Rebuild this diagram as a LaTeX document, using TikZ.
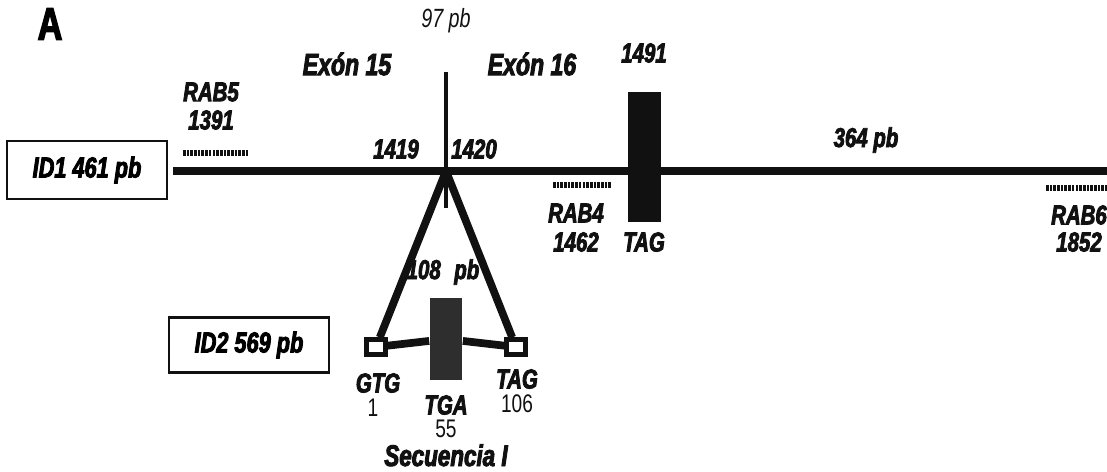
\documentclass[tikz,border=0pt]{standalone}
\usepackage{fontspec}
\setmainfont{Liberation Sans}[FakeStretch=0.75, BoldItalicFeatures={FakeBold=3}, BoldFeatures={FakeBold=3}]
\usetikzlibrary{positioning, calc}
\definecolor{ink}{HTML}{111111}

\begin{document}
\begin{tikzpicture}[x=0.02cm, y=-0.02cm,
    lbl/.style={font=\fontsize{15.5}{17}\selectfont\bfseries\itshape, text=ink, inner sep=1pt},
    num/.style={font=\fontsize{14.5}{16}\selectfont, text=ink, inner sep=1pt},
    idbox/.style={draw=ink, line width=1.2pt, minimum width=3.2cm, minimum height=1.15cm,
                  font=\fontsize{16.5}{18}\selectfont\bfseries\itshape},
    strand/.style={draw=ink, line width=4.4pt},
    stopbox/.style={fill=ink, minimum width=0.66cm, inner sep=0pt},
    site/.style={draw=ink, fill=white, line width=2.4pt, minimum width=0.38cm, minimum height=0.3cm, inner sep=0pt},
    primer/.style={draw=ink, line width=3.2pt, dash pattern=on 1.5pt off 0.6pt}
  ]
  \useasboundingbox (0,0) rectangle (1107,471);

  % titulo y rotulos superiores
  \node[font=\fontsize{26}{28}\selectfont\bfseries] (tA) at (50,24) {A};
  \node[num, font=\fontsize{15}{17}\selectfont\itshape] (t97) at (446,21) {97 pb};
  \node[lbl, font=\fontsize{17.5}{19}\selectfont\bfseries\itshape] (ex15) at (347,64) {Exón 15};
  \node[lbl, font=\fontsize{17.5}{19}\selectfont\bfseries\itshape] (ex16) at (532,64) {Exón 16};

  % hebra principal ID1
  \node[idbox] (id1) at (87,170) {ID1 461 pb};
  \coordinate (m0) at (173,171);
  \coordinate (m1) at (1107,171);
  \coordinate (apex) at (446,171);
  \coordinate (v0) at (446,72);
  \coordinate (v1) at (446,208);
  \draw[strand] (m0) -- (m1);
  \draw[ink, line width=2.6pt] (v0) -- (v1);
  \node[lbl] (n1419) at (396,149) {1419};
  \node[lbl] (n1420) at (474,149) {1420};

  % codon de parada TAG
  \node[stopbox, minimum height=2.6cm] (tag1) at (644,157) {};
  \node[lbl] (n1491) at (644,53) {1491};
  \node[lbl] (tag1l) at (644,242) {TAG};
  \node[lbl] (n364) at (866,140) {364 pb};

  % cebadores
  \draw[primer] (183,153) -- (249,153);
  \node[lbl] (rab5) at (211,92) {RAB5};
  \node[lbl] (n1391) at (211,120) {1391};
  \draw[primer] (553,185) -- (612,185);
  \node[lbl] (rab4) at (576,213) {RAB4};
  \node[lbl] (n1462) at (576,242) {1462};
  \draw[primer] (1046,188) -- (1107,188);
  \node[lbl] (rab6) at (1079,215) {RAB6};
  \node[lbl] (n1852) at (1079,242) {1852};

  % insercion ID2
  \node[idbox, minimum height=1.1cm] (id2) at (249,345) {ID2 569 pb};
  \node[stopbox, minimum height=1.64cm, fill=ink!88] (tga) at (446,339) {};
  \node[site] (gtg) at (376,347) {};
  \node[site] (tag2) at (516,347) {};
  \draw[strand] (apex) -- (gtg);
  \draw[strand] (apex) -- (tag2);
  \draw[strand] (gtg) -- (tga);
  \draw[strand] (tga) -- (tag2);
  \node[lbl] (n108) at (443,272) {108\hspace{0.5em}pb};

  \node[lbl] (gtgl) at (378,383) {GTG};
  \node[num] (n1) at (373,408) {1};
  \node[lbl] (tgal) at (446,405) {TGA};
  \node[num, inner sep=0pt] (n55) at (446,429) {55};
  \node[lbl] (tag2l) at (517,379) {TAG};
  \node[num] (n106) at (517,404) {106};
  \node[lbl, font=\fontsize{17}{19}\selectfont\bfseries\itshape, anchor=base, inner sep=0pt] (secI) at (446,466) {Secuencia I};
\end{tikzpicture}
\end{document}
